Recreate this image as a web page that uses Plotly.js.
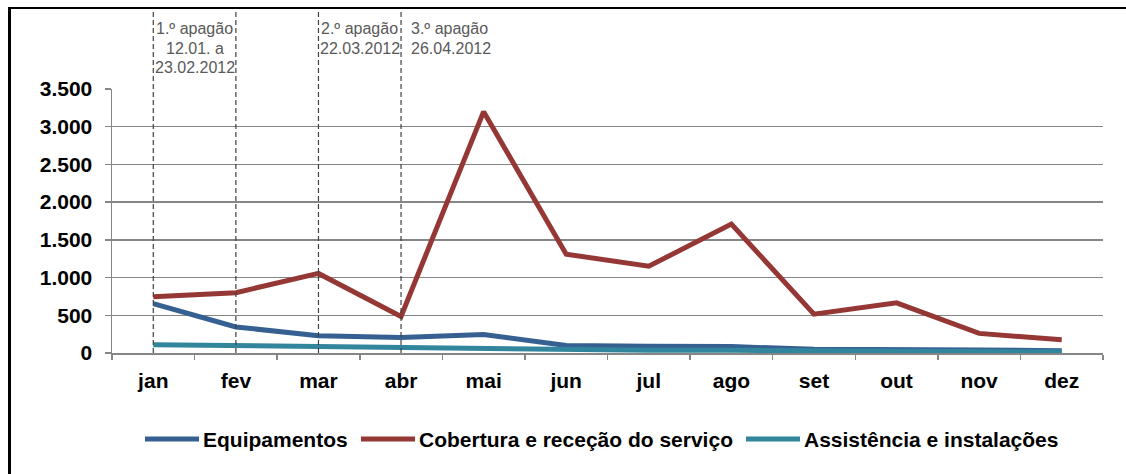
<!DOCTYPE html>
<html>
<head>
<meta charset="utf-8">
<script src="https://cdn.plot.ly/plotly-3.0.1.min.js"></script>
<style>
  html, body { margin:0; padding:0; background:#fff; overflow:hidden; width:1126px; height:474px; }
  #chart { position:absolute; left:0; top:0; width:1126px; height:474px; }
  #frame { position:absolute; left:8px; top:7px; width:1300px; height:700px; border-left:3px solid #000; border-top:2px solid #000; pointer-events:none; }
</style>
</head>
<body>
<div id="chart"></div>
<div id="frame"></div>
<script>
// ---- data ----
const months = ['jan','fev','mar','abr','mai','jun','jul','ago','set','out','nov','dez'];
const equipamentos = [655, 345, 230, 205, 245, 100, 90, 85, 50, 50, 40, 30];
const cobertura    = [745, 800, 1055, 485, 3200, 1310, 1150, 1710, 515, 665, 260, 175];
const assistencia  = [110, 95, 80, 65, 60, 40, 35, 35, 30, 25, 20, 15];
const seriesNames  = ['Equipamentos', 'Cobertura e receção do serviço', 'Assistência e instalações'];
const eventMonths  = ['jan', 'fev', 'mar', 'abr'];
const event1Lines  = ['1.º apagão', '12.01. a', '23.02.2012'];
const event2Lines  = ['2.º apagão', '22.03.2012'];
const event3Lines  = ['3.º apagão', '26.04.2012'];

const colors = ['#376092', '#953735', '#31859C'];
const FONT = 'Liberation Sans';
const W = 1126, H = 474, ML = 112, MR = 23, PW = W - ML - MR;

const traces = [equipamentos, cobertura, assistencia].map((vals, i) => ({
  type: 'scatter', mode: 'lines', x: months, y: vals, name: seriesNames[i],
  line: { color: colors[i], width: 5 }, hoverinfo: 'skip'
}));

const plotTop = 89, plotBottom = 353, plotH = plotBottom - plotTop;
const py = (pix) => (plotBottom - pix) / plotH;
const px = (pix) => (pix - ML) / PW;

const shapes = eventMonths.map(m => ({
  type: 'line', xref: 'x', yref: 'paper', x0: m, x1: m, y0: 0, y1: py(9),
  line: { color: '#404040', width: 1.2, dash: '5px,3px' }, layer: 'above'
}));

const lineYs = [28.7, 48, 67.3];
const annotations = [];
function addEvent(lines, x, anchor, xshift) {
  lines.forEach((t, k) => annotations.push({
    xref: 'x', yref: 'paper', x: x, y: py(lineYs[k]), text: t, showarrow: false,
    xanchor: anchor, yanchor: 'middle', xshift: xshift,
    font: { family: FONT, size: 16, color: '#595959' }
  }));
}
addEvent(event1Lines, 0.5, 'center', 0);
addEvent(event2Lines, 2.5, 'center', 0);
addEvent(event3Lines, 3, 'left', 8);

// ---- legend (shapes + annotations for Excel-like long keys) ----
const legendY = 439;
const legendKeys = [[145, 199], [361, 415], [746, 800]];
legendKeys.forEach(([a, b], i) => {
  shapes.push({
    type: 'line', xref: 'paper', yref: 'paper', x0: px(a), x1: px(b), y0: py(legendY), y1: py(legendY),
    line: { color: colors[i], width: 5 }
  });
  annotations.push({
    xref: 'paper', yref: 'paper', x: px(b + 3), y: py(legendY), text: seriesNames[i],
    showarrow: false, xanchor: 'left', yanchor: 'middle', borderpad: 0,
    font: { family: FONT, size: 21, color: '#000', weight: 'bold' }
  });
});

const layout = {
  width: W, height: H,
  margin: { l: ML, r: MR, t: plotTop, b: H - plotBottom, pad: 0 },
  paper_bgcolor: '#fff', plot_bgcolor: '#fff',
  separators: ',.',
  font: { family: FONT },
  showlegend: false,
  xaxis: {
    type: 'category', range: [-0.5, 11.5], showgrid: false,
    showline: true, linecolor: '#868686', linewidth: 1.5,
    ticks: 'outside', tickson: 'boundaries', ticklen: 5, tickcolor: '#868686', tickwidth: 1.5,
    ticklabelstandoff: 8,
    tickfont: { family: FONT, size: 21, color: '#000', weight: 'bold' },
    fixedrange: true
  },
  yaxis: {
    range: [0, 3500], tick0: 0, dtick: 500, tickformat: ',.0f',
    showgrid: true, gridcolor: '#868686', gridwidth: 1.5, zeroline: false,
    showline: true, linecolor: '#868686', linewidth: 1.5,
    ticks: 'outside', ticklen: 6, tickcolor: '#868686', tickwidth: 1.5,
    ticklabelstandoff: 8,
    tickfont: { family: FONT, size: 21, color: '#000', weight: 'bold' },
    fixedrange: true
  },
  shapes: shapes,
  annotations: annotations
};

Plotly.newPlot('chart', traces, layout, { displayModeBar: false, staticPlot: true });
</script>
</body>
</html>
